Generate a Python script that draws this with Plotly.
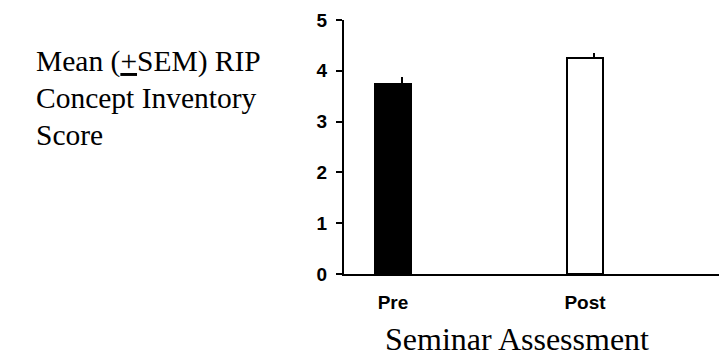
import plotly.graph_objects as go

# Seminar assessment scores
categories = ["Pre", "Post"]
means = [3.75, 4.25]
sems = [0.13, 0.11]
bar_fill = ["black", "white"]
y_ticks = [0, 1, 2, 3, 4, 5]

W, H = 719, 358
L, R, T, B = 344, 0, 20, 84
plot_h = H - T - B
plot_w = W - L - R


def py(p):
    """pixel row -> paper y"""
    return (H - B - p) / plot_h


def px(p):
    """pixel column -> paper x"""
    return (p - L) / plot_w


fig = go.Figure()

# main bars
fig.add_trace(go.Bar(
    x=categories, y=means, width=0.19,
    marker=dict(color=bar_fill, line=dict(color="black", width=2)),
    hoverinfo="skip", showlegend=False,
))

# SEM whiskers (upper only), drawn slightly right of each bar's centre
fig.add_trace(go.Bar(
    x=categories, y=means, width=0.004, offset=0.045,
    marker=dict(color="rgba(0,0,0,0)", line=dict(width=0)),
    error_y=dict(type="data", array=sems, arrayminus=[0] * len(sems),
                 symmetric=False, color="black", thickness=2, width=0),
    hoverinfo="skip", showlegend=False,
))

serif = "Liberation Serif, Times New Roman, serif"
sans = "Liberation Sans, Arial, sans-serif"

title_lines = ["Mean (<u>+</u>SEM) RIP", "Concept Inventory", "Score"]
line_mid = [61, 98, 135]
for txt, m in zip(title_lines, line_mid):
    fig.add_annotation(
        text=txt, xref="paper", yref="paper", x=px(34), y=py(m),
        xanchor="left", yanchor="middle", showarrow=False,
        font=dict(family=serif, size=29.5, color="black"), align="left",
    )

fig.add_annotation(
    text="Seminar Assessment", xref="paper", yref="paper",
    x=px(517), y=py(339), xanchor="center", yanchor="middle",
    showarrow=False, font=dict(family=serif, size=32, color="black"),
)

fig.update_layout(
    width=W, height=H,
    margin=dict(l=L, r=R, t=T, b=B),
    paper_bgcolor="white", plot_bgcolor="white",
    barmode="overlay", bargap=0,
    xaxis=dict(
        type="category", range=[-0.255, 1.698],
        showline=True, linecolor="black", linewidth=2,
        showgrid=False, zeroline=False, ticks="",
        tickfont=dict(family=sans, size=19, color="black", weight="bold"),
        ticklabelstandoff=10, fixedrange=True,
    ),
    yaxis=dict(
        range=[0, 5], tickvals=y_ticks,
        showline=True, linecolor="black", linewidth=2,
        showgrid=False, zeroline=False,
        ticks="outside", ticklen=6, tickwidth=2, tickcolor="black",
        tickfont=dict(family=sans, size=19, color="black", weight="bold"),
        ticklabelstandoff=5, fixedrange=True,
    ),
)

fig.write_html("out.html")
